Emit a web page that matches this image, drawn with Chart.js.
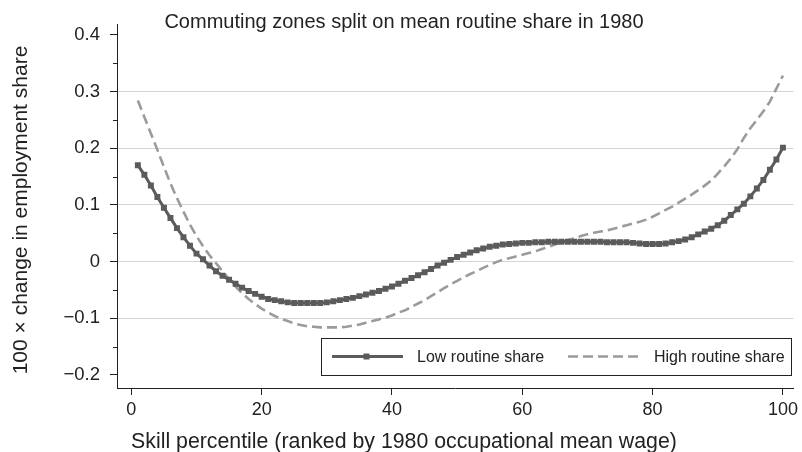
<!DOCTYPE html>
<html>
<head>
<meta charset="utf-8">
<title>Employment share change by skill percentile</title>
<script src="https://cdn.jsdelivr.net/npm/chart.js@4.4.1/dist/chart.umd.min.js"></script>
<style>
    html, body { margin: 0; padding: 0; background: #fff; }
    #wrap { width: 802px; height: 452px; }
</style>
</head>
<body>
<div id="wrap"><canvas id="chart" width="802" height="452"></canvas></div>
<script>
// x categories: skill percentiles 1..100
const percentiles = Array.from({ length: 100 }, (_, i) => i + 1);

// 100 x change in employment share
const lowRoutine = [
    0.170, 0.153, 0.134, 0.114, 0.095, 0.077, 0.059, 0.043, 0.028, 0.014,
    0.004, -0.007, -0.017, -0.025, -0.032, -0.039, -0.046, -0.052, -0.057, -0.062,
    -0.066, -0.068, -0.070, -0.072, -0.073, -0.073, -0.073, -0.073, -0.073, -0.072,
    -0.070, -0.068, -0.066, -0.064, -0.061, -0.058, -0.055, -0.052, -0.048, -0.044,
    -0.039, -0.034, -0.029, -0.024, -0.019, -0.013, -0.007, -0.002, 0.003, 0.008,
    0.012, 0.016, 0.020, 0.023, 0.026, 0.028, 0.030, 0.031, 0.032, 0.033,
    0.033, 0.034, 0.034, 0.035, 0.035, 0.035, 0.035, 0.035, 0.035, 0.035,
    0.035, 0.035, 0.034, 0.034, 0.034, 0.034, 0.033, 0.032, 0.031, 0.031,
    0.031, 0.032, 0.034, 0.036, 0.039, 0.043, 0.048, 0.053, 0.058, 0.064,
    0.072, 0.082, 0.092, 0.102, 0.115, 0.129, 0.144, 0.162, 0.180, 0.201
];

const highRoutine = [
    0.284, 0.255, 0.226, 0.197, 0.167, 0.138, 0.112, 0.088, 0.065, 0.045,
    0.027, 0.011, -0.003, -0.017, -0.031, -0.044, -0.056, -0.066, -0.075, -0.083,
    -0.090, -0.096, -0.101, -0.105, -0.109, -0.112, -0.114, -0.115, -0.116, -0.116,
    -0.116, -0.116, -0.115, -0.113, -0.111, -0.108, -0.105, -0.102, -0.099, -0.095,
    -0.090, -0.086, -0.080, -0.074, -0.068, -0.061, -0.054, -0.047, -0.040, -0.034,
    -0.028, -0.022, -0.017, -0.011, -0.006, -0.001, 0.003, 0.006, 0.009, 0.012,
    0.015, 0.018, 0.022, 0.026, 0.030, 0.034, 0.038, 0.041, 0.045, 0.048,
    0.051, 0.053, 0.055, 0.058, 0.061, 0.064, 0.067, 0.070, 0.074, 0.079,
    0.085, 0.091, 0.097, 0.104, 0.111, 0.118, 0.126, 0.134, 0.143, 0.155,
    0.168, 0.182, 0.198, 0.218, 0.235, 0.250, 0.265, 0.282, 0.305, 0.328
];

const seriesNames = ['Low routine share', 'High routine share'];
const xTicks = [0, 20, 40, 60, 80, 100];
const yTicks = [-0.2, -0.1, 0, 0.1, 0.2, 0.3, 0.4];
const yMinorTicks = [-0.15, -0.05, 0.05, 0.15, 0.25, 0.35];
const yGridLines = [-0.1, 0, 0.1, 0.2, 0.3];

const chartTitle = 'Commuting zones split on mean routine share in 1980';
const xTitle = 'Skill percentile (ranked by 1980 occupational mean wage)';
const yTitle = '100 \u00d7 change in employment share';

const FONT = '"Liberation Sans", Arial, Helvetica, sans-serif';
const INK = '#222';
const LOW_COLOR = '#5b5b5b';
const HIGH_COLOR = '#9b9b9b';

function toPoints(values) {
    return percentiles.map((p, i) => ({ x: p, y: values[i] }));
}

function fmtTick(v) {
    const r = Math.round(v * 10) / 10;
    if (r === 0) return '0';
    return (r < 0 ? '\u2212' : '') + Math.abs(r).toFixed(1);
}

// titles, minor ticks and the boxed legend inside the plot
const extras = {
    id: 'extras',
    afterDraw(chart) {
        const ctx = chart.ctx;
        const y = chart.scales.y;
        const area = chart.chartArea;

        ctx.save();
        // minor ticks on y
        ctx.strokeStyle = INK;
        ctx.lineWidth = 1;
        yMinorTicks.forEach(v => {
            const py = Math.round(y.getPixelForValue(v)) + 0.5;
            ctx.beginPath();
            ctx.moveTo(area.left - 4, py);
            ctx.lineTo(area.left, py);
            ctx.stroke();
        });

        ctx.fillStyle = INK;
        ctx.textBaseline = 'alphabetic';
        ctx.textAlign = 'center';

        ctx.font = '20px ' + FONT;
        ctx.fillText(chartTitle, 404, 28);

        ctx.font = '21.3px ' + FONT;
        ctx.fillText(xTitle, 404, 448);

        ctx.save();
        ctx.translate(27, 210);
        ctx.rotate(-Math.PI / 2);
        ctx.font = '21px ' + FONT;
        ctx.fillText(yTitle, 0, 0);
        ctx.restore();

        // legend box
        const lx = 321.5, ly = 338.5, lw = 470, lh = 37;
        const cy = 356.5;
        ctx.fillStyle = '#fff';
        ctx.fillRect(lx, ly, lw, lh);
        ctx.strokeStyle = INK;
        ctx.lineWidth = 1;
        ctx.strokeRect(lx, ly, lw, lh);

        const dsLow = chart.data.datasets[0];
        const dsHigh = chart.data.datasets[1];

        ctx.strokeStyle = dsLow.borderColor;
        ctx.lineWidth = dsLow.borderWidth;
        ctx.beginPath();
        ctx.moveTo(332, cy);
        ctx.lineTo(403, cy);
        ctx.stroke();
        ctx.fillStyle = dsLow.pointBackgroundColor;
        ctx.fillRect(366.5 - 3, cy - 3, 6, 6);

        ctx.strokeStyle = dsHigh.borderColor;
        ctx.lineWidth = dsHigh.borderWidth;
        ctx.setLineDash(dsHigh.borderDash);
        ctx.beginPath();
        ctx.moveTo(568, cy);
        ctx.lineTo(643, cy);
        ctx.stroke();
        ctx.setLineDash([]);

        ctx.fillStyle = INK;
        ctx.font = '16px ' + FONT;
        ctx.textAlign = 'left';
        ctx.textBaseline = 'middle';
        ctx.fillText(seriesNames[0], 417, cy + 1);
        ctx.fillText(seriesNames[1], 654, cy + 1);
        ctx.restore();
    }
};

const ctx = document.getElementById('chart').getContext('2d');
new Chart(ctx, {
    type: 'line',
    data: {
        datasets: [
            {
                label: seriesNames[0],
                data: toPoints(lowRoutine),
                borderColor: LOW_COLOR,
                borderWidth: 3,
                pointStyle: 'rect',
                pointRadius: 4.2,
                pointBorderWidth: 0,
                pointBackgroundColor: LOW_COLOR,
                pointBorderColor: LOW_COLOR,
                tension: 0,
                order: 1
            },
            {
                label: seriesNames[1],
                data: toPoints(highRoutine),
                borderColor: HIGH_COLOR,
                borderWidth: 2.6,
                borderDash: [10, 5],
                pointRadius: 0,
                tension: 0,
                order: 2
            }
        ]
    },
    options: {
        responsive: false,
        animation: false,
        devicePixelRatio: 1,
        layout: { padding: { top: 24, right: 4, left: 0, bottom: 0 } },
        plugins: {
            legend: { display: false },
            title: { display: false },
            tooltip: { enabled: false }
        },
        scales: {
            x: {
                type: 'linear',
                min: -2.2,
                max: 101.6,
                afterBuildTicks: scale => {
                    scale.ticks = xTicks.map(v => ({ value: v }));
                },
                afterFit: scale => { scale.height = 64; },
                grid: {
                    drawOnChartArea: false,
                    drawTicks: true,
                    tickLength: 7,
                    tickColor: INK
                },
                border: { display: true, color: INK, width: 1 },
                ticks: {
                    color: INK,
                    padding: 4,
                    maxRotation: 0,
                    font: { family: FONT, size: 18 },
                    callback: v => String(v)
                }
            },
            y: {
                type: 'linear',
                min: -0.223,
                max: 0.419,
                afterBuildTicks: scale => {
                    scale.ticks = yTicks.map(v => ({ value: v }));
                },
                afterFit: scale => { scale.width = 117; },
                grid: {
                    drawTicks: true,
                    tickLength: 7,
                    color: c => yGridLines.some(g => Math.abs(g - c.tick.value) < 1e-9) ? '#d4d4d4' : 'rgba(0,0,0,0)',
                    tickColor: INK
                },
                border: { display: true, color: INK, width: 1 },
                ticks: {
                    color: INK,
                    padding: 10,
                    font: { family: FONT, size: 18.5 },
                    callback: v => fmtTick(v)
                }
            }
        }
    },
    plugins: [extras]
});
</script>
</body>
</html>
